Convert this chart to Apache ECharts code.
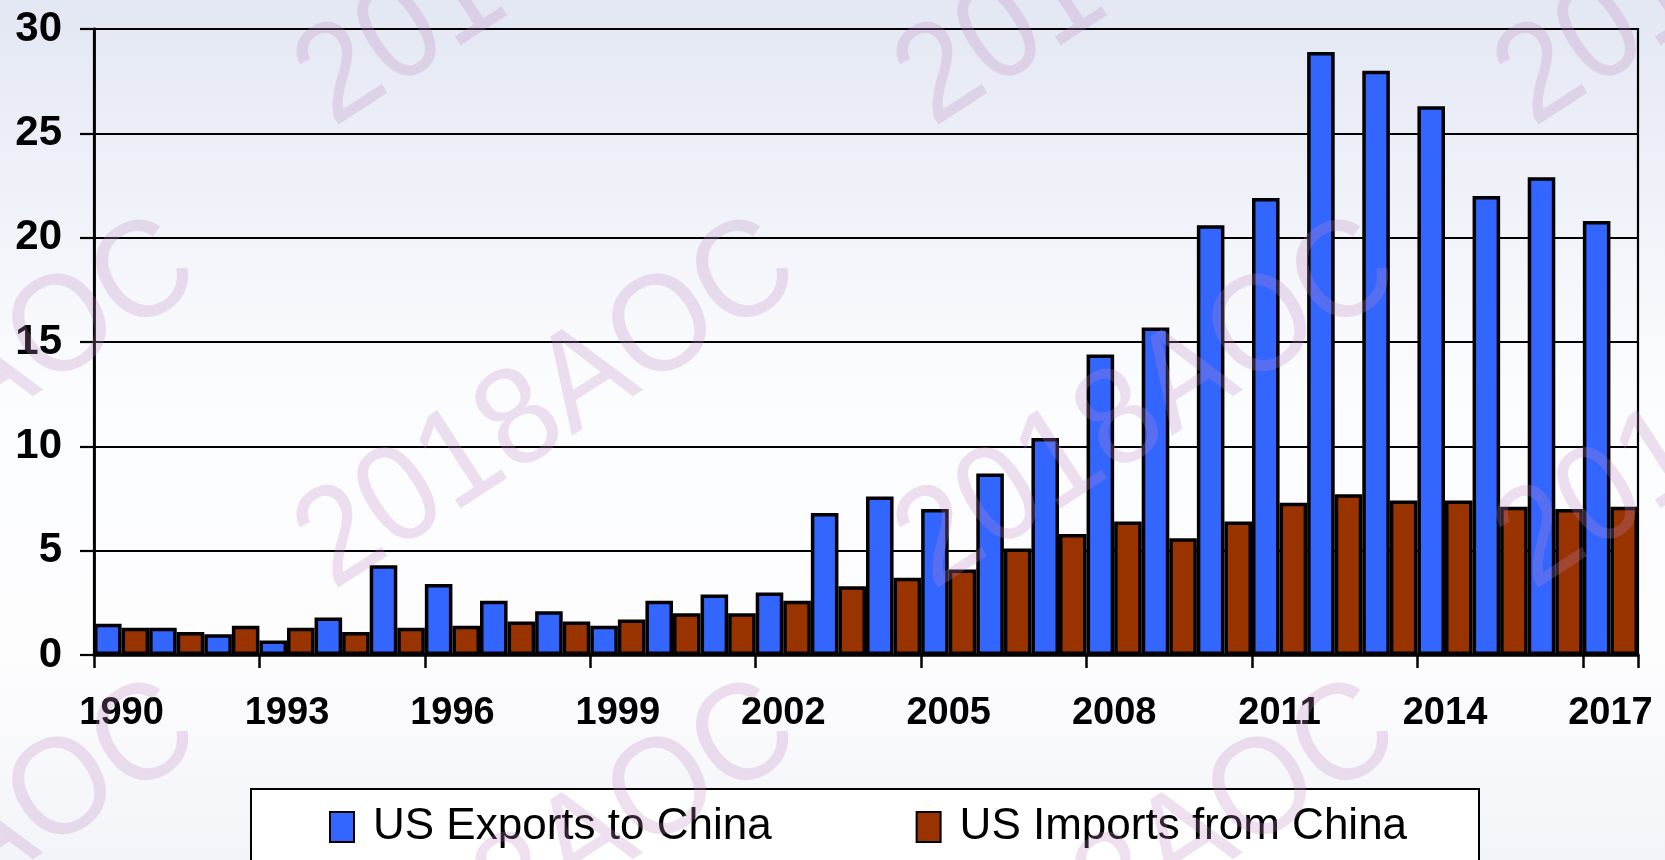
<!DOCTYPE html>
<html>
<head>
<meta charset="utf-8">
<script src="https://cdn.jsdelivr.net/npm/echarts@6/dist/echarts.min.js"></script>
<style>
  html, body { margin: 0; padding: 0; }
  #chart { width: 1665px; height: 860px; }
</style>
</head>
<body>
<div id="chart"></div>
<script>
// Years on the category axis
const years = ['1990','1991','1992','1993','1994','1995','1996','1997','1998','1999',
  '2000','2001','2002','2003','2004','2005','2006','2007','2008','2009',
  '2010','2011','2012','2013','2014','2015','2016','2017'];

// US Exports to China
const exportsToChina = [1.5, 1.3, 1.0, 0.7, 1.8, 4.3, 3.4, 2.6, 2.1, 1.4,
  2.6, 2.9, 3.0, 6.8, 7.6, 7.0, 8.7, 10.4, 14.4, 15.7,
  20.6, 21.9, 28.9, 28.0, 26.3, 22.0, 22.9, 20.8];

// US Imports from China
const importsFromChina = [1.3, 1.1, 1.4, 1.3, 1.1, 1.3, 1.4, 1.6, 1.6, 1.7,
  2.0, 2.0, 2.6, 3.3, 3.7, 4.1, 5.1, 5.8, 6.4, 5.6,
  6.4, 7.3, 7.7, 7.4, 7.4, 7.1, 7.0, 7.1];

const seriesNames = ['US Exports to China', 'US Imports from China'];
const seriesColors = ['#3366FF', '#993300'];

// Y axis range
const yMin = 0, yMax = 30, yStep = 5;

// Watermark text
const watermarkText = '2018AOC';

const FONT = '"Liberation Sans", Arial, sans-serif';

// Tiled, rotated watermark
const watermarks = [];
const wmRows = [-57, 406, 869];
const wmCols = [-52, 548, 1148, 1748];
wmRows.forEach(function (y) {
  wmCols.forEach(function (x) {
    watermarks.push({
      type: 'text',
      x: x, y: y,
      rotation: 33 * Math.PI / 180,
      scaleX: 1.0,
      scaleY: 1.08,
      z: 100,
      silent: true,
      style: {
        text: watermarkText,
        fontFamily: FONT,
        fontSize: 128,
        fill: 'rgba(190, 135, 195, 0.26)',
        align: 'center',
        verticalAlign: 'middle'
      }
    });
  });
});

const chart = echarts.init(document.getElementById('chart'));
chart.setOption({
  animation: false,
  backgroundColor: {
    type: 'linear', x: 0, y: 0, x2: 0, y2: 1,
    colorStops: [
      { offset: 0, color: '#e3e7f3' },
      { offset: 0.45, color: '#fbfcfe' },
      { offset: 0.75, color: '#fdfdfe' },
      { offset: 1, color: '#f3f4f9' }
    ]
  },
  textStyle: { fontFamily: FONT },
  grid: {
    left: 94, right: 27, top: 29, bottom: 205,
    show: true,
    borderColor: '#000',
    borderWidth: 2.2,
    backgroundColor: 'transparent',
    outerBoundsMode: 'none',
    containLabel: false
  },
  legend: {
    data: seriesNames,
    left: 329,
    top: 805,
    padding: 0,
    itemWidth: 24,
    itemHeight: 30,
    itemGap: 144,
    icon: 'rect',
    textStyle: {
      fontFamily: FONT,
      fontSize: 44,
      lineHeight: 44,
      color: '#000',
      padding: [0, 0, 0, 14]
    }
  },
  xAxis: {
    type: 'category',
    data: years,
    boundaryGap: true,
    axisLine: { lineStyle: { color: '#000', width: 3.5 } },
    axisTick: { show: true, interval: 2, alignWithLabel: false, length: 13, lineStyle: { color: '#000', width: 2.5 } },
    axisLabel: { interval: 2, margin: 40, color: '#000', fontSize: 38, fontWeight: 'bold', fontFamily: FONT },
    splitLine: { show: false }
  },
  yAxis: {
    type: 'value',
    min: yMin, max: yMax, interval: yStep,
    axisLine: { show: true, lineStyle: { color: '#000', width: 2.8 } },
    axisTick: { show: true, length: 14, lineStyle: { color: '#000', width: 2.2 } },
    axisLabel: { margin: 32, color: '#000', fontSize: 42, fontWeight: 'bold', fontFamily: FONT },
    splitLine: { show: true, lineStyle: { color: '#000', width: 2.2 } }
  },
  series: [
    {
      name: seriesNames[0],
      type: 'bar',
      data: exportsToChina,
      barGap: '0%',
      barCategoryGap: '0%',
      itemStyle: { color: seriesColors[0], borderColor: '#000', borderWidth: 3.5 }
    },
    {
      name: seriesNames[1],
      type: 'bar',
      data: importsFromChina,
      barGap: '0%',
      barCategoryGap: '0%',
      itemStyle: { color: seriesColors[1], borderColor: '#000', borderWidth: 3.5 }
    }
  ],
  graphic: [
    {
      type: 'rect',
      left: 250, top: 788,
      z: -1,
      silent: true,
      shape: { width: 1228, height: 120 },
      style: { fill: '#fff', stroke: '#000', lineWidth: 2 }
    }
  ].concat(watermarks)
});
</script>
</body>
</html>
